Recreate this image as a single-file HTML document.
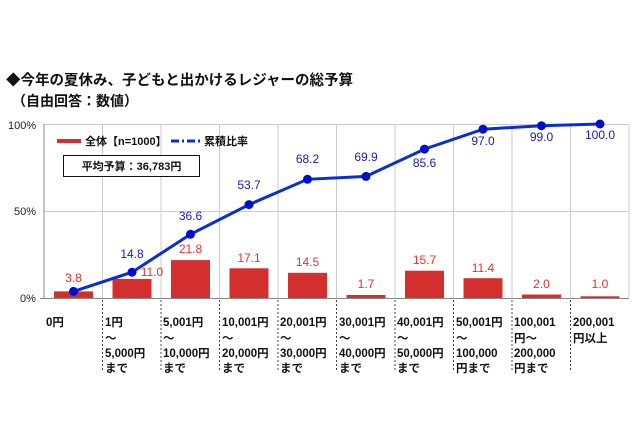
<!DOCTYPE html><html><head><meta charset="utf-8"><style>body{margin:0;background:#fff}</style></head><body>
<svg width="640" height="437" xmlns="http://www.w3.org/2000/svg" font-family="Liberation Sans, Noto Sans CJK JP, sans-serif">
<g font-weight="bold" fill="#111">
<text x="6" y="85" font-size="14.5">◆今年の夏休み、子どもと出かけるレジャーの総予算</text>
<text x="12" y="106" font-size="14">（自由回答：数値）</text>
</g>
<g stroke="#ccc" stroke-width="1">
<line x1="44" y1="124.5" x2="629" y2="124.5"/><line x1="44" y1="211.5" x2="629" y2="211.5"/>
<line x1="102.5" y1="124" x2="102.5" y2="298"/><line x1="161" y1="124" x2="161" y2="298"/><line x1="219.5" y1="124" x2="219.5" y2="298"/><line x1="278" y1="124" x2="278" y2="298"/><line x1="336.5" y1="124" x2="336.5" y2="298"/><line x1="395" y1="124" x2="395" y2="298"/><line x1="453.5" y1="124" x2="453.5" y2="298"/><line x1="512" y1="124" x2="512" y2="298"/><line x1="570.5" y1="124" x2="570.5" y2="298"/><line x1="629" y1="124" x2="629" y2="298"/>
</g>
<line x1="44" y1="124" x2="44" y2="298" stroke="#888"/>
<line x1="40" y1="298.5" x2="629" y2="298.5" stroke="#888"/>
<g stroke="#444" stroke-dasharray="2,2">
<line x1="102.5" y1="300" x2="102.5" y2="372"/><line x1="161" y1="300" x2="161" y2="372"/><line x1="219.5" y1="300" x2="219.5" y2="372"/><line x1="278" y1="300" x2="278" y2="372"/><line x1="336.5" y1="300" x2="336.5" y2="372"/><line x1="395" y1="300" x2="395" y2="372"/><line x1="453.5" y1="300" x2="453.5" y2="372"/><line x1="512" y1="300" x2="512" y2="372"/><line x1="570.5" y1="300" x2="570.5" y2="372"/>
</g>
<g font-size="11" fill="#222"><text x="8" y="129">100%</text><text x="14" y="215">50%</text><text x="20" y="302">0%</text></g>
<g fill="#d32f2f">
<rect x="54" y="291.4" width="39" height="6.6"/><rect x="112.5" y="278.9" width="39" height="19.1"/><rect x="171" y="260.1" width="39" height="37.9"/><rect x="229.5" y="268.3" width="39" height="29.7"/><rect x="288" y="272.8" width="39" height="25.2"/><rect x="346.5" y="295" width="39" height="3"/><rect x="405" y="270.7" width="39" height="27.3"/><rect x="463.5" y="278.2" width="39" height="19.8"/><rect x="522" y="294.5" width="39" height="3.5"/><rect x="580.5" y="296.3" width="39" height="1.7"/>
</g>
<polyline fill="none" stroke="#0a2fd0" stroke-width="3" points="73.5,291.4 132,272.2 190.5,234.3 249,204.6 307.5,179.3 366,176.4 424.5,149.1 483,129.2 541.5,125.7 600,124"/>
<g fill="#0010c8"><circle cx="73.5" cy="291.4" r="4.5"/><circle cx="132" cy="272.2" r="4.5"/><circle cx="190.5" cy="234.3" r="4.5"/><circle cx="249" cy="204.6" r="4.5"/><circle cx="307.5" cy="179.3" r="4.5"/><circle cx="366" cy="176.4" r="4.5"/><circle cx="424.5" cy="149.1" r="4.5"/><circle cx="483" cy="129.2" r="4.5"/><circle cx="541.5" cy="125.7" r="4.5"/><circle cx="600" cy="124" r="4.5"/></g>
<g font-size="12" fill="#e53030" text-anchor="middle">
<text x="73.5" y="282">3.8</text><text x="152" y="276">11.0</text><text x="190.5" y="253">21.8</text><text x="249" y="262">17.1</text><text x="307.5" y="266">14.5</text><text x="366" y="288">1.7</text><text x="424.5" y="264">15.7</text><text x="483" y="272">11.4</text><text x="541.5" y="288">2.0</text><text x="600" y="288">1.0</text>
</g>
<g font-size="12" fill="#1a1ab0" text-anchor="middle">
<text x="132" y="258">14.8</text><text x="190.5" y="220">36.6</text><text x="249" y="189">53.7</text><text x="307.5" y="163">68.2</text><text x="366" y="161">69.9</text><text x="424.5" y="167">85.6</text><text x="483" y="145">97.0</text><text x="541.5" y="141">99.0</text><text x="600" y="139">100.0</text>
</g>
<line x1="57" y1="141" x2="81" y2="141" stroke="#d32f2f" stroke-width="4"/>
<text x="85" y="145" font-size="11" font-weight="bold" fill="#111">全体【n=1000】</text>
<line x1="171" y1="141" x2="200" y2="141" stroke="#0a2fd0" stroke-width="3" stroke-dasharray="8,3,2,3"/>
<text x="204" y="145" font-size="11" font-weight="bold" fill="#111">累積比率</text>
<rect x="63.5" y="155.5" width="136" height="21" fill="#fff" stroke="#111"/>
<text x="131.5" y="170" font-size="11" font-weight="bold" fill="#111" text-anchor="middle">平均予算：36,783円</text>
<g font-size="11.5" font-weight="bold" fill="#111">
<text x="46" y="326">0円</text>
<text x="105" y="326">1円</text><text x="105" y="342">～</text><text x="105" y="357">5,000円</text><text x="105" y="372">まで</text>
<text x="163" y="326">5,001円</text><text x="163" y="342">～</text><text x="163" y="357">10,000円</text><text x="163" y="372">まで</text>
<text x="222" y="326">10,001円</text><text x="222" y="342">～</text><text x="222" y="357">20,000円</text><text x="222" y="372">まで</text>
<text x="280" y="326">20,001円</text><text x="280" y="342">～</text><text x="280" y="357">30,000円</text><text x="280" y="372">まで</text>
<text x="339" y="326">30,001円</text><text x="339" y="342">～</text><text x="339" y="357">40,000円</text><text x="339" y="372">まで</text>
<text x="397" y="326">40,001円</text><text x="397" y="342">～</text><text x="397" y="357">50,000円</text><text x="397" y="372">まで</text>
<text x="456" y="326">50,001円</text><text x="456" y="342">～</text><text x="456" y="357">100,000</text><text x="456" y="372">円まで</text>
<text x="514" y="326">100,001</text><text x="514" y="342">円～</text><text x="514" y="357">200,000</text><text x="514" y="372">円まで</text>
<text x="573" y="326">200,001</text><text x="573" y="342">円以上</text>
</g>
</svg>
</body></html>
